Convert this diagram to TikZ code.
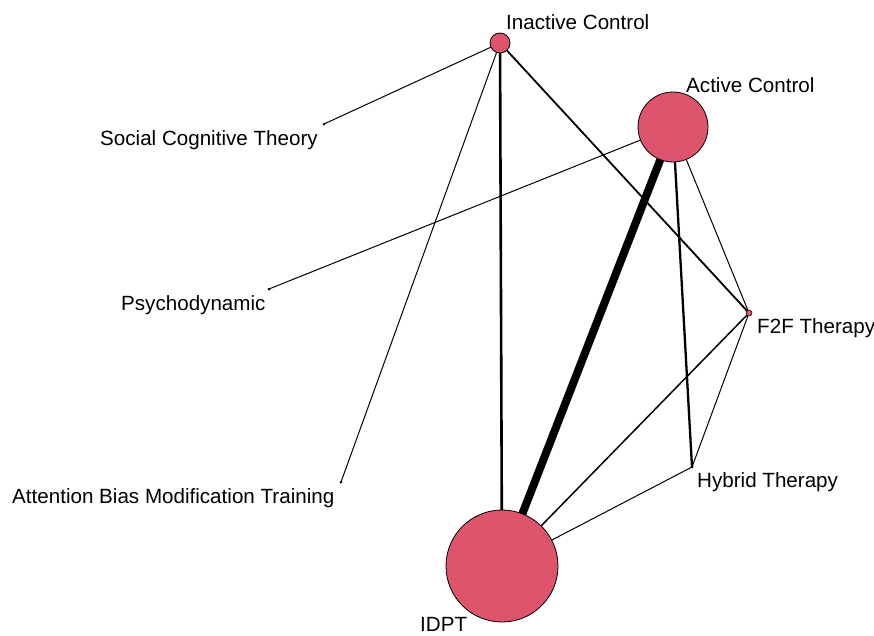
\documentclass[tikz,border=0pt]{standalone}
\usepackage{fontspec}
\setmainfont{Liberation Sans}
\definecolor{nodered}{RGB}{222,84,108}
\begin{document}
\begin{tikzpicture}[x=1pt,y=-1pt,
  trt/.style={circle,draw=black,line width=0.8pt,fill=nodered,inner sep=0pt},
  dotn/.style={circle,fill=black,inner sep=0pt,minimum size=3pt},
  lbl/.style={anchor=base west,inner sep=0pt,font=\fontsize{20.6}{22}\selectfont},
  edge/.style={draw=black,line width=#1}]
\useasboundingbox (0,0) rectangle (874,635);
% centres
\coordinate (ic) at (500,43);
\coordinate (ac) at (673,127);
\coordinate (sc) at (324,124);
\coordinate (ps) at (269,289);
\coordinate (ab) at (341,482);
\coordinate (id) at (502,566);
\coordinate (ff) at (749,313);
\coordinate (hy) at (692,467);
% edges
\draw[edge=1pt] (ic) -- (sc);
\draw[edge=1pt] (ic) -- (ab);
\draw[edge=2.6pt] (ic) -- (id);
\draw[edge=1.8pt] (ic) -- (ff);
\draw[edge=1pt] (ac) -- (ps);
\draw[edge=8pt] (ac) -- (id);
\draw[edge=2.3pt] (ac) -- (hy);
\draw[edge=1pt] (ac) -- (ff);
\draw[edge=1pt] (ff) -- (hy);
\draw[edge=1.5pt] (ff) -- (id);
\draw[edge=1pt] (hy) -- (id);
% nodes
\node[trt,minimum size=20pt] (inactive) at (ic) {};
\node[trt,minimum size=70pt] (active) at (ac) {};
\node[dotn] (social) at (sc) {};
\node[dotn] (psycho) at (ps) {};
\node[dotn] (abmt) at (ab) {};
\node[trt,minimum size=112pt] (idpt) at (id) {};
\node[trt,minimum size=6pt,line width=0.5pt] (f2f) at (ff) {};
\node[dotn] (hybrid) at (hy) {};
% labels
\node[lbl] (linactive) at (506,29) {Inactive Control};
\node[lbl] (lactive) at (686,92) {Active Control};
\node[lbl] (lsocial) at (100,145) {Social Cognitive Theory};
\node[lbl] (lpsycho) at (121,310) {Psychodynamic};
\node[lbl] (labmt) at (12,503) {Attention Bias Modification Training};
\node[lbl] (lidpt) at (420,631) {IDPT};
\node[lbl] (lf2f) at (757,333) {F2F Therapy};
\node[lbl] (lhybrid) at (697,487) {Hybrid Therapy};
\end{tikzpicture}
\end{document}
